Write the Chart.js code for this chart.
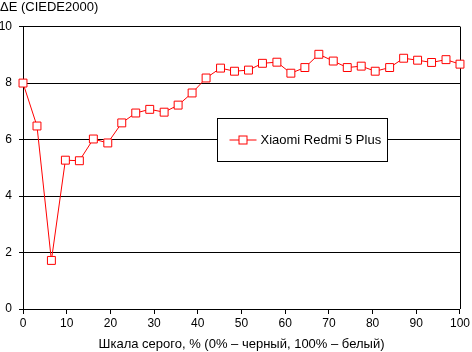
<!DOCTYPE html>
<html>
<head>
<meta charset="utf-8">
<script src="https://cdn.jsdelivr.net/npm/chart.js@4/dist/chart.umd.min.js"></script>
<style>
  body { margin: 0; background: #fff; }
</style>
</head>
<body>
<canvas id="deltaChart" width="472" height="352"></canvas>
<script>
// -------- Data --------
const grayLevels = [0, 3.2, 6.5, 9.7, 12.9, 16.1, 19.4, 22.6, 25.8, 29.0, 32.3, 35.5, 38.7, 41.9, 45.2, 48.4,
    51.6, 54.8, 58.1, 61.3, 64.5, 67.7, 71.0, 74.2, 77.4, 80.6, 83.9, 87.1, 90.3, 93.5, 96.8, 100];
const deltaE = [8.0, 6.48, 1.72, 5.27, 5.25, 6.02, 5.88, 6.59, 6.94, 7.07, 6.97, 7.22, 7.65, 8.18, 8.53, 8.42,
    8.46, 8.70, 8.74, 8.35, 8.55, 9.02, 8.78, 8.55, 8.60, 8.42, 8.55, 8.88, 8.81, 8.73, 8.83, 8.67];
const seriesName = 'Xiaomi Redmi 5 Plus';
const yTitle = 'ΔE (CIEDE2000)';
const xTitle = 'Шкала серого, % (0% – черный, 100% – белый)';

Chart.defaults.font.family = 'Arial, "Liberation Sans", sans-serif';
Chart.defaults.color = '#000';

// -------- Legend box + right frame line --------
const frameAndLegend = {
    id: 'frameAndLegend',
    beforeDatasetsDraw(chart) {
        const ctx = chart.ctx;
        const area = chart.chartArea;
        ctx.save();
        // right edge of plot
        ctx.strokeStyle = '#000';
        ctx.lineWidth = 1;
        ctx.beginPath();
        ctx.moveTo(Math.round(area.right) + 0.5, area.top);
        ctx.lineTo(Math.round(area.right) + 0.5, area.bottom);
        ctx.stroke();
        ctx.restore();
    },
    afterDraw(chart) {
        const ctx = chart.ctx;
        const ds = chart.data.datasets[0];
        ctx.save();
        // legend
        const bx = 217.5, by = 118.5, bw = 170, bh = 43;
        ctx.lineWidth = 1;
        ctx.strokeStyle = '#000';
        ctx.fillStyle = '#fff';
        ctx.fillRect(bx, by, bw, bh);
        ctx.strokeRect(bx, by, bw, bh);
        const cy = by + bh / 2;
        ctx.strokeStyle = ds.borderColor;
        ctx.beginPath();
        ctx.moveTo(bx + 12, cy);
        ctx.lineTo(bx + 39, cy);
        ctx.stroke();
        ctx.fillStyle = '#fff';
        ctx.fillRect(bx + 21.5, cy - 4, 8, 8);
        ctx.strokeRect(bx + 21.5, cy - 4, 8, 8);
        ctx.fillStyle = '#000';
        ctx.font = '13px Arial, "Liberation Sans", sans-serif';
        ctx.textBaseline = 'middle';
        ctx.fillText(ds.label, bx + 43, cy);
        ctx.restore();
    }
};

const ctx = document.getElementById('deltaChart');
new Chart(ctx, {
    type: 'line',
    data: {
        datasets: [{
            label: seriesName,
            data: grayLevels.map((x, i) => ({ x: x, y: deltaE[i] })),
            borderColor: '#ff0000',
            borderWidth: 1,
            backgroundColor: '#fff',
            pointStyle: 'rect',
            pointRadius: 5.6,
            pointBorderWidth: 1,
            pointBorderColor: '#ff0000',
            pointBackgroundColor: '#fff',
            tension: 0,
            clip: false
        }]
    },
    options: {
        responsive: false,
        animation: false,
        devicePixelRatio: 1,
        layout: { padding: { left: 0, right: 10, top: 0, bottom: 0 } },
        plugins: {
            legend: { display: false },
            tooltip: { enabled: false },
            title: {
                display: true,
                text: yTitle,
                align: 'start',
                font: { size: 13, weight: 'normal' },
                color: '#000',
                padding: { top: 0, bottom: 11 }
            }
        },
        scales: {
            x: {
                type: 'linear',
                min: 0,
                max: 100,
                ticks: { stepSize: 10, font: { size: 12 }, padding: 2, color: '#000' },
                grid: { drawOnChartArea: false, drawTicks: true, tickLength: 5, color: '#000' },
                border: { display: true, color: '#000' },
                title: {
                    display: true,
                    text: xTitle,
                    font: { size: 13 },
                    color: '#000',
                    padding: { top: 1, bottom: 0 }
                },
                afterFit(scale) { scale.height = 43; }
            },
            y: {
                min: 0,
                max: 10,
                ticks: { stepSize: 2, font: { size: 12 }, padding: 7, color: '#000' },
                grid: { color: '#000', lineWidth: 1, drawTicks: true, tickLength: 4 },
                border: { display: true, color: '#000' },
                afterFit(scale) { scale.width = 23; }
            }
        }
    },
    plugins: [frameAndLegend]
});
</script>
</body>
</html>
